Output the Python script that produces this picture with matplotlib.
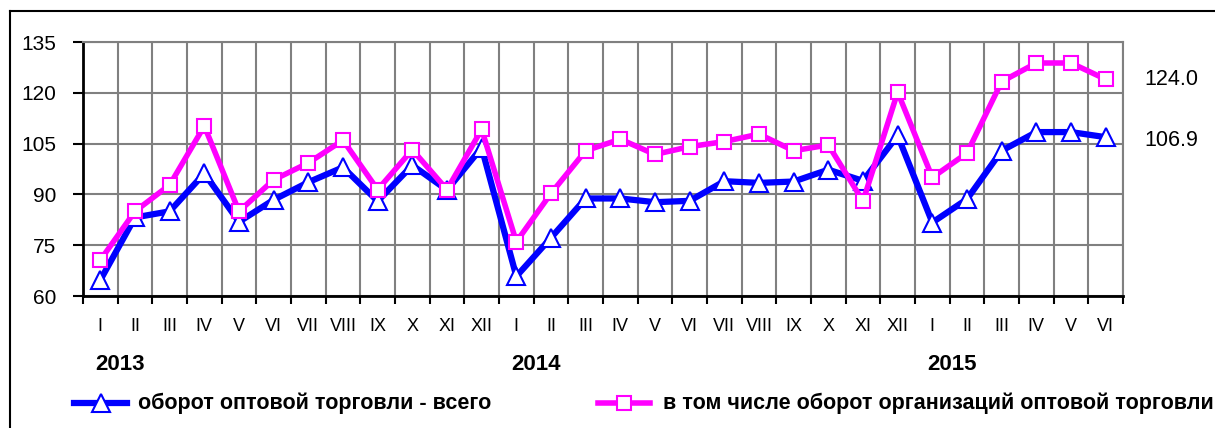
import numpy as np
import matplotlib.pyplot as plt
from matplotlib.lines import Line2D

# данные (индексы, %)
months = ['I', 'II', 'III', 'IV', 'V', 'VI', 'VII', 'VIII', 'IX', 'X', 'XI', 'XII',
          'I', 'II', 'III', 'IV', 'V', 'VI', 'VII', 'VIII', 'IX', 'X', 'XI', 'XII',
          'I', 'II', 'III', 'IV', 'V', 'VI']
years = ['2013', '2014', '2015']
year_start = [0, 12, 24]
total = [64.7, 83.2, 85.0, 96.2, 81.9, 88.4, 93.6, 98.0, 88.0, 98.6, 91.3, 103.8,
         65.8, 77.2, 88.8, 88.8, 87.7, 88.1, 93.9, 93.4, 93.8, 97.3, 94.0, 107.4,
         81.7, 88.6, 102.9, 108.4, 108.4, 106.9]
orgs = [70.6, 85.0, 92.8, 110.2, 85.0, 94.3, 99.3, 106.0, 91.4, 103.2, 91.4, 109.2,
        76.0, 90.3, 102.9, 106.3, 101.8, 104.1, 105.6, 107.8, 102.9, 104.6, 88.0, 120.2,
        95.0, 102.2, 123.3, 128.8, 128.8, 124.0]
label_total = 'оборот оптовой торговли - всего'
label_orgs = 'в том числе оборот организаций оптовой торговли'

plt.rcParams['font.family'] = ['Liberation Sans', 'DejaVu Sans']

W, H = 1215, 428
fig = plt.figure(figsize=(W / 100, H / 100), dpi=100)
ax = fig.add_axes([83 / W, 1 - 296 / H, (1123 - 83) / W, (296 - 42) / H])

x = np.arange(len(months))
blue = '#0000FF'
pink = '#FF00FF'
ax.plot(x, total, color=blue, lw=4.5, marker='^', ms=12.5, mfc='white', mec=blue, mew=1.5,
        zorder=3, clip_on=False)
ax.plot(x, orgs, color=pink, lw=4, marker='s', ms=10.5, mfc='white', mec=pink, mew=1.5,
        zorder=4, clip_on=False)

ax.set_xlim(-0.5, len(months) - 0.5)
ax.set_ylim(60, 135)
ax.set_yticks(np.arange(60, 136, 15))
ax.set_xticks(np.arange(-0.5, len(months), 1.0))
ax.set_xticklabels([])
ax.tick_params(axis='both', direction='out', width=1.5, color='black', labelsize=15)
ax.tick_params(axis='x', length=6)
ax.tick_params(axis='y', length=7, pad=12)
ax.grid(True, color='#808080', lw=1.5)
ax.set_axisbelow(True)
for s in ['top', 'right']:
    ax.spines[s].set_color('#808080')
    ax.spines[s].set_linewidth(1.5)
for s in ['left', 'bottom']:
    ax.spines[s].set_color('black')
    ax.spines[s].set_linewidth(2)

# подписи месяцев
for i, m in enumerate(months):
    ax.text(i, -0.12, m, transform=ax.get_xaxis_transform(), ha='center', va='center',
            fontsize=13, family=['Liberation Sans Narrow', 'Liberation Sans'])
# годы
for ys, yl in zip(year_start, years):
    ax.text(ys - 0.15, -0.27, yl, transform=ax.get_xaxis_transform(), ha='left', va='center',
            fontsize=16, fontweight='bold')

# последние значения
ax.text(30.13, orgs[-1], '%.1f' % orgs[-1], ha='left', va='center', fontsize=15.5, clip_on=False)
ax.text(30.13, total[-1] - 1, '%.1f' % total[-1], ha='left', va='center', fontsize=15.5, clip_on=False)

# легенда
ly = 1 - 403 / H
fig.add_artist(Line2D([74 / W, 127 / W], [ly, ly], color=blue, lw=4.5))
fig.add_artist(Line2D([100.5 / W], [ly], marker='^', ms=12.5, mfc='white', mec=blue, mew=1.5))
fig.text(138 / W, ly, label_total, ha='left', va='center', fontsize=15.5, fontweight='bold')
fig.add_artist(Line2D([598 / W, 650 / W], [ly, ly], color=pink, lw=4))
fig.add_artist(Line2D([624 / W], [ly], marker='s', ms=10.5, mfc='white', mec=pink, mew=1.5))
fig.text(663 / W, ly, label_orgs, ha='left', va='center', fontsize=15.5, fontweight='bold')

# рамка
fig.add_artist(Line2D([10 / W, 10 / W], [0, 1 - 11 / H], color='black', lw=1.5))
fig.add_artist(Line2D([10 / W, 1], [1 - 11 / H, 1 - 11 / H], color='black', lw=1.5))

fig.savefig('out.png', dpi=100)
